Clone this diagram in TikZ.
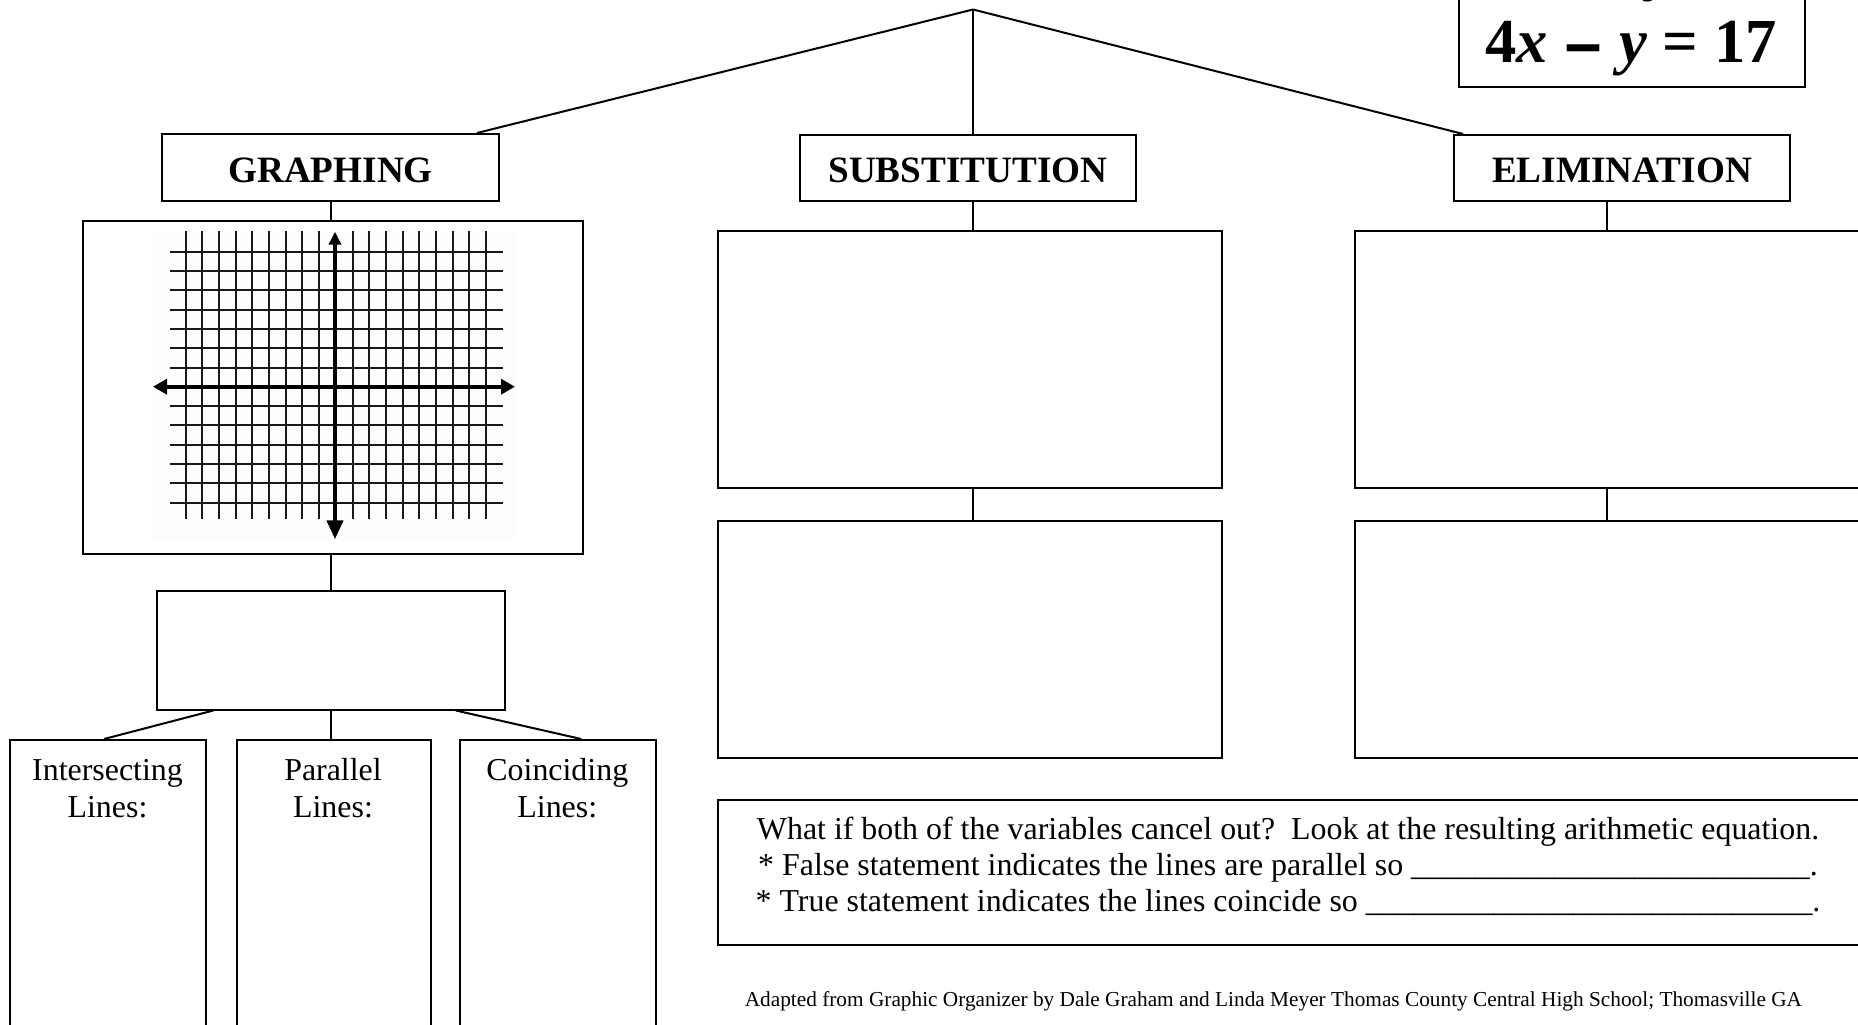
\documentclass[tikz,border=0pt]{standalone}
\usepackage{fontspec}
\usepackage{graphicx}
\setmainfont{Liberation Serif}
\usetikzlibrary{calc,arrows.meta}
\begin{document}
\begin{tikzpicture}[x=1pt,y=-1pt,
  box/.style={draw=black, line width=2pt, rectangle, inner sep=0pt},
  conn/.style={draw=black, line width=2pt},
  head/.style={font=\fontsize{37.2pt}{44pt}\selectfont\bfseries, inner sep=0pt, text height=29.5pt, text depth=0pt},
  body/.style={font=\fontsize{31.9pt}{36.3pt}\selectfont, inner sep=0pt},
  foot/.style={font=\fontsize{21.3pt}{25pt}\selectfont, inner sep=0pt},
  eqf/.style={font=\fontsize{62.6pt}{70pt}\selectfont\bfseries, inner sep=0pt},
  gridline/.style={draw=black!90, line width=2pt},
  axis/.style={draw=black, line width=4.2pt}
]
\useasboundingbox (0,0) rectangle (1858,1025);
\clip (0,0) rectangle (1858,1025);

% apex
\coordinate (apex) at (973,9.5);

% heading boxes
\node[box, minimum width=337pt, minimum height=67pt, head] (gr)  at (330.5,167.5) {GRAPHING};
\node[box, minimum width=336pt, minimum height=66pt, head] (sub) at (968,168) {SUBSTITUTION};
\node[box, minimum width=336pt, minimum height=66pt, head] (eli) at (1622,168) {ELIMINATION};

% equation box (top cut off)
\node[box, minimum width=346.5pt, minimum height=146.5pt] (eq) at (1631.75,13.25) {};
\node[eqf, anchor=base west] (eqprev) at (1649,-11) {\textit{y}};
\node[eqf, anchor=base] (eqtext) at (1631,63) {4\textit{x} \raisebox{-0.3em}{\scalebox{1.12}[1.6]{−}} \textit{y} = 17};

% graph box
\node[box, minimum width=500pt, minimum height=333pt] (gbox) at (333,387.5) {};
\fill[black!0.6] (151,231) rectangle (515,540);
\foreach \i in {0,...,8,10,11,...,18} {
  \draw[gridline] ({185.7+16.68*\i},230.7) -- ({185.7+16.68*\i},519.3);
}
\foreach \k in {0,...,6,8,9,...,13} {
  \draw[gridline] (169.5,{251.7+19.3*\k}) -- (502.5,{251.7+19.3*\k});
}
\draw[axis, {Triangle[length=14pt,width=15pt]}-{Triangle[length=14pt,width=15pt]}] (153,386.7) -- (515,386.7);
\draw[axis, {Triangle[length=13pt,width=12pt]}-{Triangle[length=19pt,width=16pt]}] (335,231.7) -- (335,539.3);

% small box under graph
\node[box, minimum width=347.5pt, minimum height=118.5pt] (sbox) at (330.75,650.25) {};

% three line-type boxes
\node[box, minimum width=196pt, minimum height=340pt] (b1) at (108,910) {};
\node[box, minimum width=194pt, minimum height=340pt] (b2) at (334,910) {};
\node[box, minimum width=195.7pt, minimum height=340pt] (b3) at (557.85,910) {};
\node[body, anchor=base] (t1) at (107.5,780.7) {\begin{tabular}[t]{@{}c@{}}Intersecting\\Lines:\end{tabular}};
\node[body, anchor=base] (t2) at (333,780.7) {\begin{tabular}[t]{@{}c@{}}Parallel\\Lines:\end{tabular}};
\node[body, anchor=base] (t3) at (557.3,780.7) {\begin{tabular}[t]{@{}c@{}}Coinciding\\Lines:\end{tabular}};

% substitution boxes
\node[box, minimum width=503.5pt, minimum height=257pt] (su1) at (969.75,359.5) {};
\node[box, minimum width=503.5pt, minimum height=237.5pt] (su2) at (969.75,639.25) {};

% elimination boxes
\node[box, minimum width=505.5pt, minimum height=257pt] (el1) at (1607.25,359.5) {};
\node[box, minimum width=505.5pt, minimum height=237.5pt] (el2) at (1607.25,639.25) {};

% text box
\node[box, minimum width=1142pt, minimum height=145pt] (tb) at (1289,872.5) {};
\node[body, anchor=base] (tbtext) at (1288,839) {\begin{tabular}[t]{@{}c@{}}
What if both of the variables cancel out?\ \ Look at the resulting arithmetic equation.\\
{*} False statement indicates the lines are parallel so \_\_\_\_\_\_\_\_\_\_\_\_\_\_\_\_\_\_\_\_\_\_\_\_\_.\\
{*} True statement indicates the lines coincide so \_\_\_\_\_\_\_\_\_\_\_\_\_\_\_\_\_\_\_\_\_\_\_\_\_\_\_\_.
\end{tabular}};

% footer
\node[foot, anchor=base west] (footer) at (744.6,1006.7) {Adapted from Graphic Organizer by Dale Graham and Linda Meyer Thomas County Central High School; Thomasville GA};

% connectors
\draw[conn] (apex) -- ($(gr.north west)!0.932!(gr.north east)$);
\draw[conn] (apex) -- (apex |- sub.north);
\draw[conn] (apex) -- ($(eli.north west)!0.03!(eli.north east)$);
\draw[conn] (gr.south) -- (gr.south |- gbox.north);
\draw[conn] (sbox.north |- gbox.south) -- (sbox.north);
\draw[conn] ($(sbox.south west)!0.164!(sbox.south east)$) -- ($(b1.north west)!0.48!(b1.north east)$);
\draw[conn] (sbox.south) -- (sbox.south |- b2.north);
\draw[conn] ($(sbox.south west)!0.858!(sbox.south east)$) -- ($(b3.north west)!0.618!(b3.north east)$);
\draw[conn] (apex |- sub.south) -- (apex |- su1.north);
\draw[conn] (apex |- su1.south) -- (apex |- su2.north);
\draw[conn] (el1.north |- eli.south) -- (el1.north);
\draw[conn] (el1.south) -- (el2.north);
\end{tikzpicture}
\end{document}
